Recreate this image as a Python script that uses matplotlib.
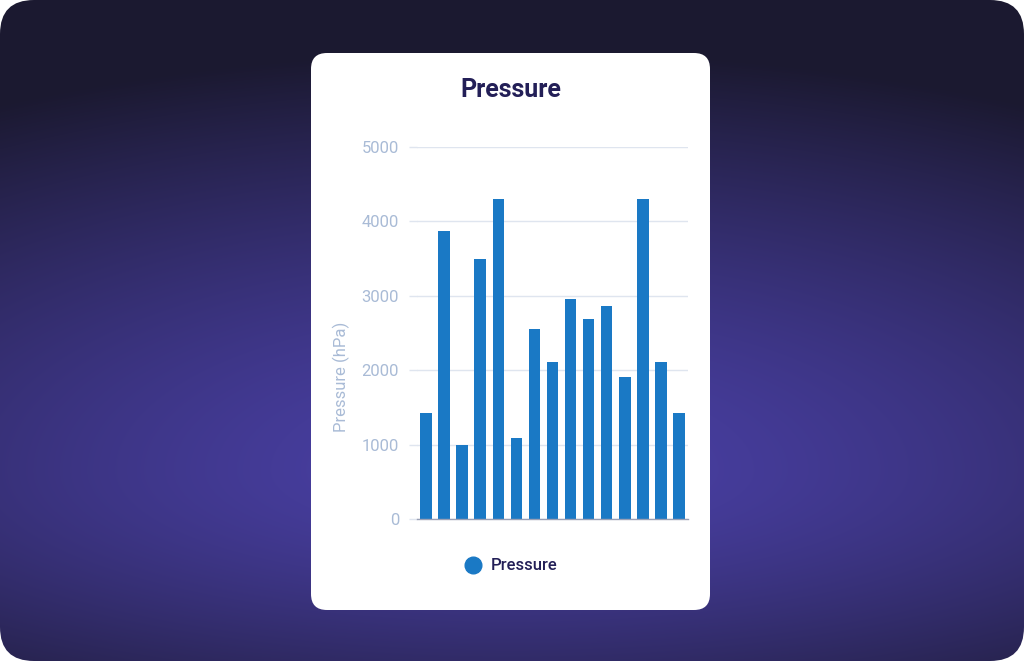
import numpy as np
import matplotlib
matplotlib.use("Agg")
import matplotlib.pyplot as plt
from matplotlib.patches import FancyBboxPatch
from matplotlib.lines import Line2D

# data
series_name = "Pressure"
y_title = "Pressure (hPa)"
categories = [str(i) for i in range(1, 16)]
pressure = [1420, 3870, 990, 3500, 4300, 1090, 2560, 2110, 2960, 2690, 2860, 1910, 4300, 2110, 1420]
y_ticks = [0, 1000, 2000, 3000, 4000, 5000]

W, H = 1024, 661
bar_color = "#1a79c5"
navy = "#231f57"
tick_color = "#a9bbd6"
grid_color = "#dfe5ef"

plt.rcParams["font.family"] = ["Roboto", "DejaVu Sans"]

fig = plt.figure(figsize=(W / 100, H / 100), dpi=100, facecolor="white")

# background gradient with rounded outer corners
bg = fig.add_axes([0, 0, 1, 1])
bg.set_xlim(0, W)
bg.set_ylim(H, 0)
bg.axis("off")
yy, xx = np.mgrid[0:H, 0:W]
dy = np.where(yy < 470, (yy - 470) / 420.0, (yy - 470) / 300.0)
dx = (xx - 512) / 1050.0
d = np.clip(np.sqrt(dx ** 2 + dy ** 2), 0, 1)
bright = np.array([74, 64, 166]) / 255.0
dark = np.array([27, 25, 48]) / 255.0
t = d ** 1.4
rgb = bright[None, None, :] * (1 - t[..., None]) + dark[None, None, :] * t[..., None]
im = bg.imshow(rgb, extent=[0, W, H, 0], aspect="auto", interpolation="bilinear")
outer = FancyBboxPatch((0, 0), W, H, boxstyle="round,pad=0,rounding_size=34",
                       transform=bg.transData, facecolor="none", edgecolor="none")
bg.add_patch(outer)
im.set_clip_path(outer)

# white card
card = FancyBboxPatch((311, 53), 399, 557, boxstyle="round,pad=0,rounding_size=16",
                      facecolor="white", edgecolor="none")
bg.add_patch(card)

# chart area
ax = fig.add_axes([417 / W, 1 - 519 / H, 271 / W, 372 / H])
ax.set_facecolor("none")
x = np.arange(len(categories))
ax.bar(x, pressure, width=0.64, color=bar_color, zorder=2)
ax.set_xlim(-0.5, len(categories) - 0.5)
ax.set_ylim(0, 5000)
ax.set_yticks(y_ticks)
ax.set_xticks([])
ax.grid(axis="y", color=grid_color, linewidth=1, zorder=0)
ax.tick_params(axis="y", length=5.8, width=1, color=grid_color, labelcolor=tick_color,
               labelsize=12, pad=7)
for s in ["top", "right", "left"]:
    ax.spines[s].set_visible(False)
ax.spines["bottom"].set_color("#9aa0b5")
ax.spines["bottom"].set_linewidth(1)

fig.text(341 / W, 1 - 377 / H, y_title, rotation=90, ha="center", va="center",
         color=tick_color, fontsize=12)
fig.text(510.5 / W, 1 - 90 / H, series_name, ha="center", va="center",
         color=navy, fontsize=18, fontweight="bold")

handle = Line2D([], [], marker="o", linestyle="", color=bar_color, markersize=12)
leg = fig.legend([handle], [series_name], loc="center", bbox_to_anchor=(507 / W, 1 - 566 / H),
                 frameon=False, handletextpad=0.1, fontsize=12)
for txt in leg.get_texts():
    txt.set_color(navy)
    txt.set_fontweight("medium")

fig.savefig("out.png", dpi=100, facecolor="white")
